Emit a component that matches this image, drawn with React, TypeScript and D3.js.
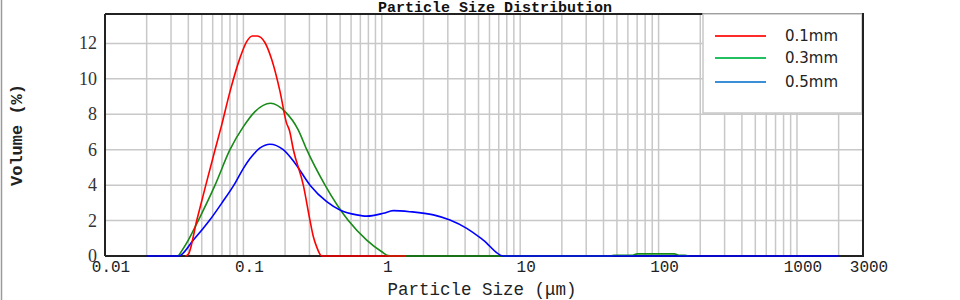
import React from 'react';
import * as d3 from 'd3';

// ---- data ----
const seriesNames = ['0.1mm', '0.3mm', '0.5mm'];

const series01: [number, number][] = [
  [0.038, 0], [0.040, 0.1], [0.046, 2], [0.0535, 4], [0.0624, 6], [0.0697, 7.4],
  [0.080, 9.28], [0.0944, 11.17], [0.1056, 12.1], [0.116, 12.42], [0.126, 12.42],
  [0.143, 12.05], [0.160, 11.1], [0.184, 9.28], [0.205, 7.5], [0.215, 7.1],
  [0.2296, 6.0], [0.271, 4], [0.303, 2], [0.32, 1.1], [0.339, 0.5], [0.368, 0], [1.5, 0],
];

const series03: [number, number][] = [
  [0.0339, 0], [0.040, 0.9], [0.0472, 2], [0.0624, 4], [0.080, 6],
  [0.1, 7.3], [0.1213, 8.15], [0.157, 8.62], [0.2, 8.15], [0.249, 7.12], [0.287, 6],
  [0.389, 4], [0.573, 2], [0.778, 0.9], [1.0, 0.24], [1.11, 0.02], [1.2, 0],
  [45, 0], [48, 0.04], [65, 0.04], [70, 0.12], [130, 0.12], [140, 0.04], [155, 0.04], [165, 0],
];

const series05: [number, number][] = [
  [0.02, 0], [0.0339, 0], [0.0435, 0.9], [0.0568, 2], [0.070, 3], [0.0869, 4.1], [0.1, 4.95],
  [0.1117, 5.5], [0.132, 6.1], [0.1555, 6.31], [0.194, 6.0], [0.236, 5.24], [0.303, 4],
  [0.4, 3.07], [0.499, 2.6], [0.659, 2.32], [0.778, 2.25], [1.026, 2.41], [1.21, 2.56],
  [1.6, 2.5], [2.36, 2.32], [3.11, 2.03], [4.11, 1.56], [5.41, 0.9], [7.55, 0], [2000, 0],
];

const xTickValues = [0.01, 0.1, 1, 10, 100, 1000, 3000];
const xTickLabels = ['0.01', '0.1', '1', '10', '100', '1000', '3000'];
const yTickValues = [0, 2, 4, 6, 8, 10, 12];

const lineColors = ['#ff0000', '#178a17', '#0000ff'];
const legendColors = ['#ff2a2a', '#22c060', '#3a8fd6'];

export default function App() {
  const left = 105, right = 863, top = 14, bottom = 256;
  const x = d3.scaleLog().domain([0.01, 3000]).range([left, right]);
  const y = d3.scaleLinear().domain([0, 13.66]).range([bottom, top]);

  const line = d3.line<[number, number]>()
    .x(d => x(d[0]))
    .y(d => y(d[1]))
    .curve(d3.curveMonotoneX);

  const vGrid = x.ticks().filter(t => t > 0.0101 && t < 2999);
  const hGrid = yTickValues.filter(v => v > 0);

  // draw order: green, blue, red
  const drawOrder = [1, 2, 0];
  const allSeries = [series01, series03, series05];

  const mono = '"Liberation Mono", "DejaVu Sans Mono", monospace';

  return (
    <svg width={960} height={300} style={{ position: 'absolute', left: 0, top: 0, background: '#fff' }}>
      <rect x={0} y={0} width={960} height={300} fill="#fff" />
      <line x1={1.5} x2={1.5} y1={0} y2={300} stroke="#9a9a9a" strokeWidth={1.5} />

      {/* grid */}
      {vGrid.map((t, i) => (
        <line key={'v' + i} x1={x(t)} x2={x(t)} y1={top} y2={bottom} stroke="#c8c8c8" strokeWidth={1.5} />
      ))}
      {hGrid.map((v, i) => (
        <line key={'h' + i} x1={left} x2={right} y1={y(v)} y2={y(v)} stroke="#c8c8c8" strokeWidth={1.5} />
      ))}

      {/* frame */}
      <line x1={left} x2={right} y1={top} y2={top} stroke="#222" strokeWidth={2} />
      <line x1={left} x2={left} y1={top} y2={bottom} stroke="#222" strokeWidth={2} />
      <line x1={left} x2={right} y1={bottom} y2={bottom} stroke="#222" strokeWidth={2} />

      {/* curves */}
      {drawOrder.map(i => (
        <path key={'s' + i} d={line(allSeries[i]) || ''} fill="none" stroke={lineColors[i]} strokeWidth={1.6} />
      ))}

      {/* legend */}
      <rect x={703} y={14} width={159} height={99} fill="#fff" stroke="#c8c8c8" strokeWidth={1.5} />
      {seriesNames.map((n, i) => {
        const ly = [36, 58, 82][i];
        return (
          <g key={'lg' + i}>
            <line x1={715} x2={766} y1={ly} y2={ly} stroke={legendColors[i]} strokeWidth={2} />
            <text x={785} y={ly} dominantBaseline="middle" fontFamily='"DejaVu Sans", Verdana, sans-serif'
              fontSize={15} fill="#222">{n}</text>
          </g>
        );
      })}
      <line x1={right} x2={right} y1={top - 1} y2={bottom + 1} stroke="#222" strokeWidth={2} />

      {/* title */}
      <text x={495} y={12} textAnchor="middle" fontFamily={mono} fontWeight="bold" fontSize={15} fill="#111">
        Particle Size Distribution
      </text>

      {/* y ticks */}
      {yTickValues.map((v, i) => (
        <text key={'yt' + i} x={97} y={y(v)} textAnchor="end" dominantBaseline="central"
          fontFamily='"Liberation Serif", "Times New Roman", serif' fontSize={18} fill="#333">{v}</text>
      ))}

      {/* x ticks */}
      {xTickValues.map((t, i) => (
        <text key={'xt' + i} x={x(t) + 6} y={272} textAnchor="middle" fontFamily={mono} fontSize={16} fill="#222">
          {xTickLabels[i]}
        </text>
      ))}

      {/* axis titles */}
      <text x={482} y={295} textAnchor="middle" fontFamily={mono} fontSize={17.5} fill="#222">
        Particle Size (μm)
      </text>
      <text transform="translate(17,135) rotate(-90)" textAnchor="middle" dominantBaseline="central"
        fontFamily={mono} fontSize={17} fontWeight="bold" fill="#222">
        Volume (%)
      </text>
    </svg>
  );
}
